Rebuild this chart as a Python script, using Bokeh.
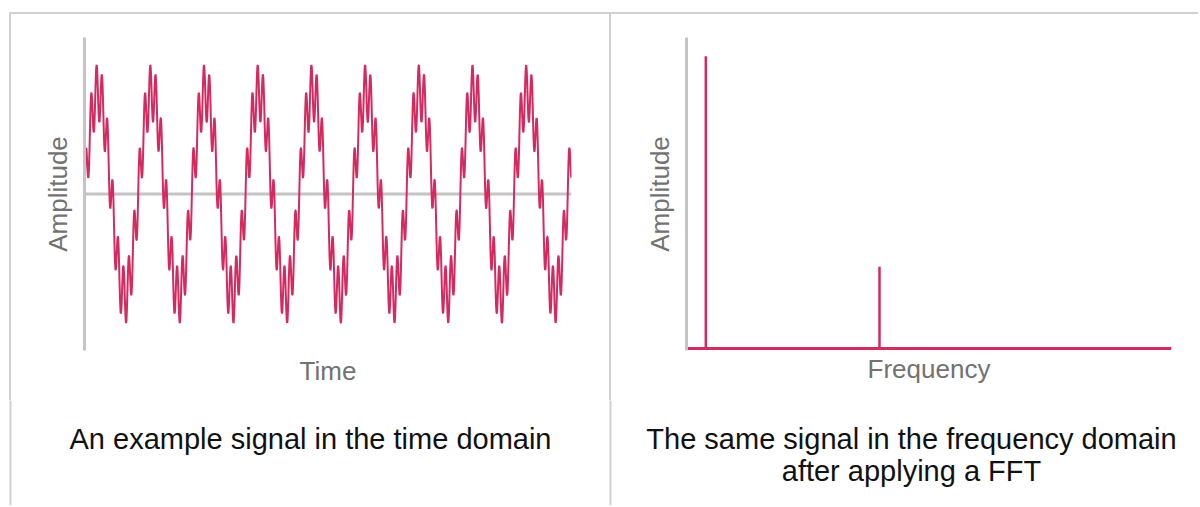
import numpy as np
from bokeh.plotting import figure
from bokeh.layouts import row, column
from bokeh.models import Label, FixedTicker, Range1d, Span, Div, Spacer
from bokeh.embed import file_html
from bokeh.resources import INLINE

# ---------------- data ----------------
component_freqs = [1.0, 10.0]     # the two tones (relative frequency units)
component_amps = [1.0, 0.28]      # their amplitudes
time_end = 9.07                   # length of the time window (in periods of the low tone)
freq_end = 25.13                  # right end of the frequency axis
signal_limit = 1.54               # y-range half height for the time-domain panel
amp_top = 1.0644
amp_bottom = -0.0068

left_caption = "An example signal in the time domain"
right_caption = ["The same signal in the frequency domain", "after applying a FFT"]

# time-domain signal synthesised from the spectrum components (inverse of the FFT panel)
t = np.linspace(0.0, time_end, 3000)
signal = np.zeros_like(t)
for f, a in zip(component_freqs, component_amps):
    signal = signal + a * np.sin(2 * np.pi * f * t)

PINK = "#d42a60"
AXIS_GRAY = "#c4c4c4"
BORDER_GRAY = "#d0d0d0"
LABEL_GRAY = "#727272"
FONT = "Liberation Sans"

TOTAL_W = 1198
PANEL_H = 386      # page y 14 .. 400
CAP_H = 105        # page y 400 .. 505
W1 = 598           # page x 11 .. 609
W2 = 587           # page x 611 .. 1198


def style_axes(p, xlabel, ylabel, xstand, ystand):
    for ax in (p.xaxis[0], p.yaxis[0]):
        ax.ticker = FixedTicker(ticks=[])
        ax.major_tick_line_color = None
        ax.minor_tick_line_color = None
        ax.major_label_text_font_size = "0px"
        ax.axis_label_text_font = FONT
        ax.axis_label_text_font_size = "26px"
        ax.axis_label_text_font_style = "normal"
        ax.axis_label_text_color = LABEL_GRAY
    p.xaxis.axis_label = xlabel
    p.yaxis.axis_label = ylabel
    p.xaxis.axis_label_standoff = xstand
    p.yaxis.axis_label_standoff = ystand
    p.xaxis.axis_line_color = None
    p.yaxis.axis_line_color = AXIS_GRAY
    p.yaxis.axis_line_width = 3
    p.xgrid.visible = False
    p.ygrid.visible = False
    p.outline_line_color = None


# ---------------- left panel: time domain ----------------
p1 = figure(title=None, width=W1, height=PANEL_H,
            min_border_left=73, min_border_right=W1 - 73 - 487,
            min_border_top=21, min_border_bottom=PANEL_H - 21 - 315,
            x_range=Range1d(0, time_end), y_range=Range1d(-signal_limit, signal_limit),
            output_backend="svg", toolbar_location=None)
style_axes(p1, "Time", "Amplitude", 5, 12)
p1.add_layout(Span(location=0, dimension="width", line_color=AXIS_GRAY,
                   line_width=3, level="underlay"))
p1.line(t, signal, line_color=PINK, line_width=2)

# ---------------- right panel: frequency domain ----------------
p2 = figure(title=None, width=W2, height=PANEL_H,
            min_border_left=75, min_border_right=W2 - 75 - 485,
            min_border_top=23, min_border_bottom=PANEL_H - 23 - 316,
            x_range=Range1d(0, freq_end), y_range=Range1d(amp_bottom, amp_top),
            output_backend="svg", toolbar_location=None)
style_axes(p2, "Frequency", "Amplitude", 3, 12)
p2.line([0, freq_end], [0, 0], line_color=PINK, line_width=3)
p2.segment(x0=component_freqs, y0=[0] * len(component_freqs),
           x1=component_freqs, y1=component_amps, line_color=PINK, line_width=2.5)

# ---------------- caption strip (full width, pixel coordinates) ----------------
cap = figure(title=None, width=TOTAL_W, height=CAP_H,
             x_axis_location=None, y_axis_location=None,
             min_border_left=0, min_border_right=0, min_border_top=0, min_border_bottom=0,
             x_range=Range1d(0, TOTAL_W), y_range=Range1d(CAP_H, 0),
             output_backend="svg", toolbar_location=None)
cap.grid.visible = False
cap.outline_line_color = None
# continuation of the cell borders
cap.quad(left=[9, 609], right=[11, 611], top=[-2, -2], bottom=[CAP_H, CAP_H],
         fill_color=BORDER_GRAY, line_color=None)
cap.add_layout(Label(x=310, y=38, text=left_caption, text_align="center",
                     text_baseline="alphabetic", text_font=FONT,
                     text_font_size="29px", text_color="#111111"))
for i, line in enumerate(right_caption):
    cap.add_layout(Label(x=911, y=38 + 32 * i, text=line, text_align="center",
                         text_baseline="alphabetic", text_font=FONT,
                         text_font_size="29px", text_color="#111111"))


def hdiv(w, h):
    return Div(text="", width=w, height=h, margin=0,
               styles={"background-color": BORDER_GRAY})


body = row(Spacer(width=9, height=PANEL_H, margin=0),
           hdiv(2, PANEL_H),
           p1,
           hdiv(2, PANEL_H),
           p2,
           spacing=0)
top_line = row(Spacer(width=9, height=2, margin=0), hdiv(TOTAL_W - 9, 2), spacing=0)
layout = column(Spacer(width=TOTAL_W, height=12, margin=0), top_line, body, cap, spacing=0)

open("out.html", "w").write(file_html(layout, INLINE))
